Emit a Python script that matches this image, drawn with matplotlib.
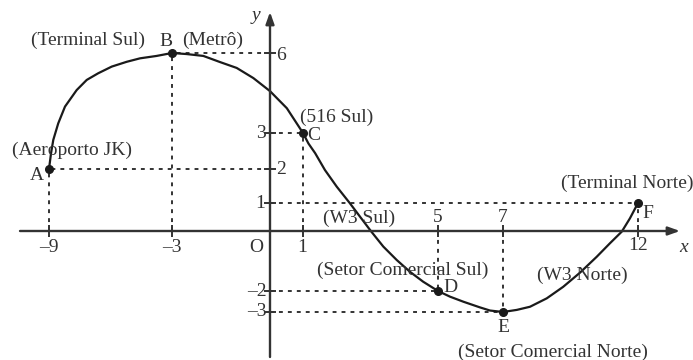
import numpy as np
import matplotlib.pyplot as plt

plt.rcParams['font.family'] = ['Liberation Serif', 'DejaVu Serif']

# the drawing is schematic: each axis value sits where the picture puts it
x_vals = [-12, -11, -9, -3, 0, 1, 5, 7, 12, 14, 15]
x_pix = [-12.5, 8, 49, 172, 270, 303, 438, 503, 638, 692, 719]
y_vals = [-7, -6, -3, -2, 0, 1, 2, 3, 6, 8, 9]
y_pix = [-36, -15, 48, 69, 129, 157, 191, 227, 307, 360.4, 387]

x_ticks = [-9, -3, 1, 5, 7, 12]
y_ticks = [-3, -2, 1, 2, 3, 6]

pt_names = ['A', 'B', 'C', 'D', 'E', 'F']
pt_x = [-9, -3, 1, 5, 7, 12]
pt_y = [2, 6, 3, -2, -3, 1]
places = ['(Aeroporto JK)', '(Terminal Sul)', '(516 Sul)',
          '(Setor Comercial Sul)', '(Setor Comercial Norte)', '(Terminal Norte)']
roads = ['(Metrô)', '(W3 Sul)', '(W3 Norte)']

# path
curve_x = [-9, -8.90, -8.79, -8.55, -8.22, -7.65, -7.16, -6.60, -5.94, -5.21, -4.56,
           -3.75, -3, -2.55, -2.04, -1.53, -1.02, -0.51, 0, 0.51, 1,
           1.16, 1.36, 1.65, 2.0, 2.39, 2.69, 3.01, 3.38, 3.78, 4.17, 4.56, 5,
           5.37, 5.78, 6.29, 6.6, 7, 7.51, 8.0, 8.62, 9.23, 9.85, 10.47, 10.96,
           11.40, 11.70, 12]
curve_y = [2, 2.44, 2.81, 3.36, 3.99, 4.61, 4.99, 5.24, 5.49, 5.67, 5.80,
           5.89, 6, 5.96, 5.89, 5.66, 5.44, 5.06, 4.57, 3.93, 3,
           2.71, 2.44, 1.97, 1.48, 0.99, 0.51, 0, -0.52, -0.97, -1.36, -1.69, -2,
           -2.27, -2.51, -2.78, -2.93, -3, -2.90, -2.75, -2.35, -1.86, -1.39, -0.86, -0.41,
           -0.02, 0.45, 1]


def fx(v):
    return np.interp(v, x_vals, x_pix)


def ix(p):
    return np.interp(p, x_pix, x_vals)


def fy(v):
    return np.interp(v, y_vals, y_pix)


def iy(p):
    return np.interp(p, y_pix, y_vals)


def at(px, py):
    # picture pixel -> data position
    return float(ix(px)), float(iy(360 - py))


ink = '#333333'
fig = plt.figure(figsize=(6.93, 3.6), dpi=100)
ax = fig.add_axes([0, 0, 1, 1])
ax.set_xscale('function', functions=(fx, ix))
ax.set_yscale('function', functions=(fy, iy))
ax.set_xlim(float(ix(0)), float(ix(693)))
ax.set_ylim(float(iy(0)), float(iy(360)))
ax.axis('off')

# axes with arrows
ax.annotate('', xy=(at(680, 0)[0], 0), xytext=(at(20, 0)[0], 0),
            arrowprops=dict(arrowstyle='-|>,head_length=0.7,head_width=0.25',
                            color=ink, lw=1.7, shrinkA=0, shrinkB=0))
ax.annotate('', xy=(0, at(0, 12)[1]), xytext=(0, at(0, 357)[1]),
            arrowprops=dict(arrowstyle='-|>,head_length=0.7,head_width=0.25',
                            color=ink, lw=1.7, shrinkA=0, shrinkB=0))
ax.plot(x_ticks, [0] * len(x_ticks), ls='none', marker='|', ms=8, mew=1.4, color=ink)
ax.plot([0] * len(y_ticks), y_ticks, ls='none', marker='_', ms=8, mew=1.4, color=ink)

# dotted guides
dots = dict(color=ink, lw=1.4, ls=(0, (2, 2.6)))
for x, y in zip(pt_x, pt_y):
    ax.plot([x, x], [0, y], **dots)
    ax.plot([0, x], [y, y], **dots)

ax.plot(curve_x, curve_y, color='#1a1a1a', lw=1.6,
        solid_capstyle='round', solid_joinstyle='round')
ax.plot(pt_x, pt_y, ls='none', marker='o', ms=5.5, color='#1a1a1a')

fs = 14
txt = dict(fontsize=fs, color=ink, ha='center', va='center')

# tick labels
xl_pos = [(49, 248), (172, 248), (302, 247), (438, 218), (503, 218), (638, 246)]
for v, (px, py) in zip(x_ticks, xl_pos):
    ax.text(*at(px, py), str(v).replace('-', '\u2013'), **txt)
yl_pos = [(257, 312), (257, 291), (260, 203), (281, 169), (261, 133), (281, 55)]
for v, (px, py) in zip(y_ticks, yl_pos):
    ax.text(*at(px, py), str(v).replace('-', '\u2013'), **txt)
ax.text(*at(256, 248), 'O', **txt)
ax.text(*at(684, 247), 'x', fontsize=fs, color=ink, ha='center', va='center', style='italic')
ax.text(*at(256, 15), 'y', fontsize=fs, color=ink, ha='center', va='center', style='italic')

# point letters and place names
name_pos = [(37, 176), (166, 42), (314, 136), (450, 288), (503, 327), (648, 213)]
for n, (px, py) in zip(pt_names, name_pos):
    ax.text(*at(px, py), n, **txt)
place_pos = [(72, 150), (88, 40), (337, 117), (403, 270), (553, 352), (627, 183)]
for n, (px, py) in zip(places, place_pos):
    ax.text(*at(px, py), n, **txt)
road_pos = [(213, 40), (359, 218), (582, 275)]
for n, (px, py) in zip(roads, road_pos):
    ax.text(*at(px, py), n, **txt)

fig.savefig('out.png', dpi=100)
